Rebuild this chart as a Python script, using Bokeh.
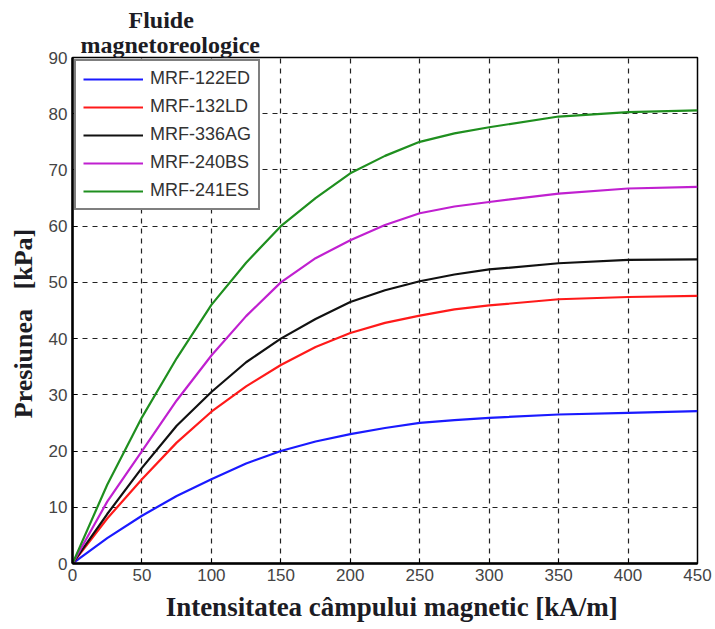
from bokeh.plotting import figure
from bokeh.models import Legend, LegendItem, FixedTicker, Range1d, Title
from bokeh.embed import file_html
from bokeh.resources import INLINE

H = [0, 25, 50, 75, 100, 125, 150, 175, 200, 225, 250, 275, 300, 350, 400, 450]
mrf_122ed = [0, 4.5, 8.5, 12, 15, 17.8, 20, 21.7, 23, 24.1, 25, 25.5, 25.9, 26.5, 26.8, 27.1]
mrf_132ld = [0, 8, 15, 21.5, 27, 31.5, 35.3, 38.5, 41, 42.8, 44.1, 45.2, 45.9, 47.0, 47.4, 47.6]
mrf_336ag = [0, 8.8, 17, 24.5, 30.5, 35.8, 40, 43.5, 46.5, 48.6, 50.2, 51.4, 52.3, 53.4, 54.0, 54.1]
mrf_240bs = [0, 11, 20, 29, 37, 44, 50, 54.3, 57.5, 60.2, 62.3, 63.5, 64.3, 65.8, 66.7, 67.0]
mrf_241es = [0, 14, 26, 36.5, 46, 53.5, 60, 65, 69.4, 72.5, 75, 76.5, 77.6, 79.5, 80.3, 80.6]

names = ["MRF-122ED", "MRF-132LD", "MRF-336AG", "MRF-240BS", "MRF-241ES"]
series = [mrf_122ed, mrf_132ld, mrf_336ag, mrf_240bs, mrf_241es]
colors = ["#1a1aff", "#ff1a1a", "#111111", "#c020d0", "#1f8f1f"]

x_ticks = [0, 50, 100, 150, 200, 250, 300, 350, 400, 450]
y_ticks = [0, 10, 20, 30, 40, 50, 60, 70, 80, 90]
legend_title_lines = ["Fluide", "magnetoreologice"]

serif = "Liberation Serif"
sans = "Liberation Sans"
label_color = "#1c1c24"
nb = "\u00a0"

p = figure(width=715, height=629, output_backend="svg", toolbar_location=None, title=None,
           x_range=Range1d(0, 450), y_range=Range1d(0, 90),
           min_border_left=72, min_border_right=18, min_border_top=57, min_border_bottom=66)
p.outline_line_color = "black"
p.outline_line_width = 1.5

for ax in (p.xaxis[0], p.yaxis[0]):
    ax.axis_line_color = "black"
    ax.axis_line_width = 2.5
    ax.major_tick_in = 5
    ax.major_tick_out = 0
    ax.minor_tick_line_color = None
    ax.major_label_text_font = sans
    ax.major_label_text_font_size = "17px"
    ax.major_label_text_color = "#444444"
    ax.axis_label_text_font = serif
    ax.axis_label_text_font_style = "bold"
    ax.axis_label_text_color = label_color

p.xaxis.ticker = FixedTicker(ticks=x_ticks)
p.yaxis.ticker = FixedTicker(ticks=y_ticks)
p.xaxis.axis_label = nb * 2 + "Intensitatea câmpului magnetic [kA/m]"
p.yaxis.axis_label = "Presiunea" + nb * 3 + "[kPa]" + nb * 4
p.xaxis.axis_label_text_font_size = "27px"
p.yaxis.axis_label_text_font_size = "26px"
p.xaxis.major_label_standoff = 5
p.yaxis.major_label_standoff = 5
p.xaxis.axis_label_standoff = 8
p.yaxis.axis_label_standoff = 8

p.xgrid.grid_line_color = "#222222"
p.ygrid.grid_line_color = "#222222"
p.xgrid.grid_line_dash = "5 5"
p.ygrid.grid_line_dash = "5 5"
p.xgrid.grid_line_width = 1.2
p.ygrid.grid_line_width = 1.2
p.xgrid.ticker = FixedTicker(ticks=x_ticks)
p.ygrid.ticker = FixedTicker(ticks=y_ticks)

items = []
for name, ys, c in zip(names, series, colors):
    r = p.line(H, ys, line_color=c, line_width=2.2)
    items.append(LegendItem(label=name, renderers=[r]))

legend = Legend(items=items, location="top_left", margin=2,
                label_text_font=sans, label_text_font_size="18px", label_text_color="#333333",
                glyph_width=60, glyph_height=20, label_height=20, spacing=7,
                label_standoff=7, padding=7,
                border_line_color="black", border_line_width=2,
                background_fill_color="white", background_fill_alpha=1.0)
p.add_layout(legend)

p.add_layout(Title(text=legend_title_lines[1], align="left", offset=8, standoff=0,
                   text_font=serif, text_font_style="bold", text_font_size="24px",
                   text_color=label_color), "above")
p.add_layout(Title(text=legend_title_lines[0], align="left", offset=56, standoff=-7,
                   text_font=serif, text_font_style="bold", text_font_size="24px",
                   text_color=label_color), "above")

open("out.html", "w").write(file_html(p, INLINE))
